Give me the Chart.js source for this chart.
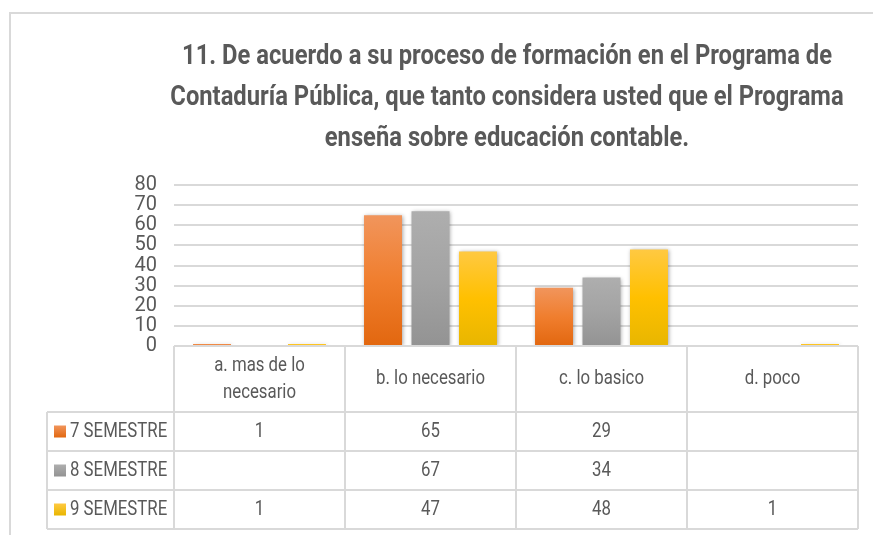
<!DOCTYPE html>
<html>
<head>
<meta charset="utf-8">
<script src="https://cdn.jsdelivr.net/npm/chart.js@4"></script>
<style>
  html, body { margin: 0; padding: 0; background: #fff; }
  canvas { display: block; }
</style>
</head>
<body>
<canvas id="chart" width="873" height="535"></canvas>
<script>
const titleLines = [
    '11. De acuerdo a su proceso de formación en el Programa de',
    'Contaduría Pública, que tanto considera usted que el Programa',
    'enseña sobre educación contable.'
];
const categories = [['a. mas de lo', 'necesario'], 'b. lo necesario', 'c. lo basico', 'd. poco'];
const seriesNames = ['7 SEMESTRE', '8 SEMESTRE', '9 SEMESTRE'];
const sem7 = [1, 65, 29, null];
const sem8 = [null, 67, 34, null];
const sem9 = [1, 47, 48, 1];
const yMin = 0, yMax = 80, yStep = 10;

// top / middle / bottom shades, excel style gradient
const shades = [
    ['#F1955C', '#F07E2E', '#E2670F'],
    ['#AEAEAE', '#A3A3A3', '#939393'],
    ['#FFC942', '#FFC000', '#E8B600']
];

const FONT = "Roboto, 'Liberation Sans', sans-serif";
const TEXT = '#595959';
const LINE = '#D9D9D9';
const SQUEEZE = 0.84; // calibri-like narrow look

function narrowText(c, t, x, y, k) {
    c.fillText(t, x, y, c.measureText(t).width * (k || SQUEEZE));
}

function barFill(i) {
    return ctx => {
        const chart = ctx.chart;
        const area = chart.chartArea;
        const v = ctx.parsed ? ctx.parsed.y : null;
        if (!area || v == null) return shades[i][1];
        const top = chart.scales.y.getPixelForValue(v);
        const g = chart.ctx.createLinearGradient(0, top, 0, area.bottom);
        g.addColorStop(0, shades[i][0]);
        g.addColorStop(0.5, shades[i][1]);
        g.addColorStop(1, shades[i][2]);
        return g;
    };
}

const frame = {
    id: 'frame',
    beforeDraw(chart) {
        const c = chart.ctx;
        c.save();
        c.strokeStyle = LINE;
        c.lineWidth = 2;
        c.beginPath();
        c.moveTo(10, 535);
        c.lineTo(10, 13);
        c.lineTo(873, 13);
        c.stroke();

        // title
        c.fillStyle = TEXT;
        c.font = 'bold 27px ' + FONT;
        c.textAlign = 'center';
        c.textBaseline = 'middle';
        const k = 650 / c.measureText(titleLines[0]).width;
        const ys = [57, 98, 139];
        titleLines.forEach((t, i) => narrowText(c, t, 507, ys[i], k));
        c.restore();
    }
};

const shadow = {
    id: 'shadow',
    beforeDatasetsDraw(chart) {
        chart.ctx.save();
        chart.ctx.shadowColor = 'rgba(0,0,0,0.35)';
        chart.ctx.shadowBlur = 4;
        chart.ctx.shadowOffsetX = 1;
        chart.ctx.shadowOffsetY = 1;
    },
    afterDatasetsDraw(chart) {
        chart.ctx.restore();
    }
};

// data table under the plot, columns follow the x scale
const dataTable = {
    id: 'dataTable',
    afterDraw(chart) {
        const c = chart.ctx;
        const x = chart.scales.x;
        const area = chart.chartArea;
        const half = (x.getPixelForValue(1) - x.getPixelForValue(0)) / 2;
        const left = 47;
        const headBottom = 412;
        const rowH = 39;
        const rows = chart.data.datasets;
        const bottom = headBottom + rowH * rows.length;

        c.save();
        c.strokeStyle = LINE;
        c.lineWidth = 2;
        c.beginPath();
        c.moveTo(area.left, area.bottom);
        c.lineTo(area.right, area.bottom);
        for (let i = 0; i <= categories.length; i++) {
            const px = Math.round(x.getPixelForValue(i) - half);
            c.moveTo(px, area.bottom);
            c.lineTo(px, bottom);
        }
        for (let r = 0; r <= rows.length; r++) {
            const py = headBottom + r * rowH;
            c.moveTo(left, py);
            c.lineTo(area.right, py);
        }
        c.moveTo(left, headBottom);
        c.lineTo(left, bottom);
        c.stroke();

        c.fillStyle = TEXT;
        c.font = '20px ' + FONT;
        c.textAlign = 'center';
        c.textBaseline = 'middle';
        categories.forEach((lab, i) => {
            const lines = Array.isArray(lab) ? lab : [lab];
            const cx = x.getPixelForValue(i);
            const mid = (area.bottom + headBottom) / 2;
            lines.forEach((t, k) => {
                narrowText(c, t, cx, mid + (k - (lines.length - 1) / 2) * 27);
            });
        });

        rows.forEach((ds, r) => {
            const cy = headBottom + r * rowH + rowH / 2;
            const g = c.createLinearGradient(0, cy - 6, 0, cy + 6);
            g.addColorStop(0, shades[r][0]);
            g.addColorStop(1, shades[r][2]);
            c.fillStyle = g;
            c.fillRect(54, cy - 6, 12, 12);
            c.fillStyle = TEXT;
            c.textAlign = 'left';
            narrowText(c, ds.label, 70, cy);
            c.textAlign = 'center';
            ds.data.forEach((v, i) => {
                if (v != null) narrowText(c, String(v), x.getPixelForValue(i), cy);
            });
        });
        c.restore();
    }
};

new Chart(document.getElementById('chart'), {
    type: 'bar',
    data: {
        labels: categories,
        datasets: [sem7, sem8, sem9].map((d, i) => ({
            label: seriesNames[i],
            data: d,
            backgroundColor: barFill(i),
            borderWidth: 0,
            barPercentage: 0.8,
            categoryPercentage: 0.833
        }))
    },
    options: {
        responsive: false,
        devicePixelRatio: 1,
        animation: false,
        layout: {
            padding: { top: 185, right: 15, bottom: 189, left: 0 }
        },
        plugins: {
            legend: { display: false },
            title: { display: false },
            tooltip: { enabled: false }
        },
        scales: {
            x: {
                display: false
            },
            y: {
                min: yMin,
                max: yMax,
                ticks: {
                    stepSize: yStep,
                    autoSkip: false,
                    padding: 17,
                    color: TEXT,
                    font: { family: FONT, size: 20 }
                },
                grid: { color: LINE, lineWidth: 2, drawTicks: false },
                border: { display: false },
                afterFit(scale) { scale.width = 174; }
            }
        }
    },
    plugins: [frame, shadow, dataTable]
});
</script>
</body>
</html>
